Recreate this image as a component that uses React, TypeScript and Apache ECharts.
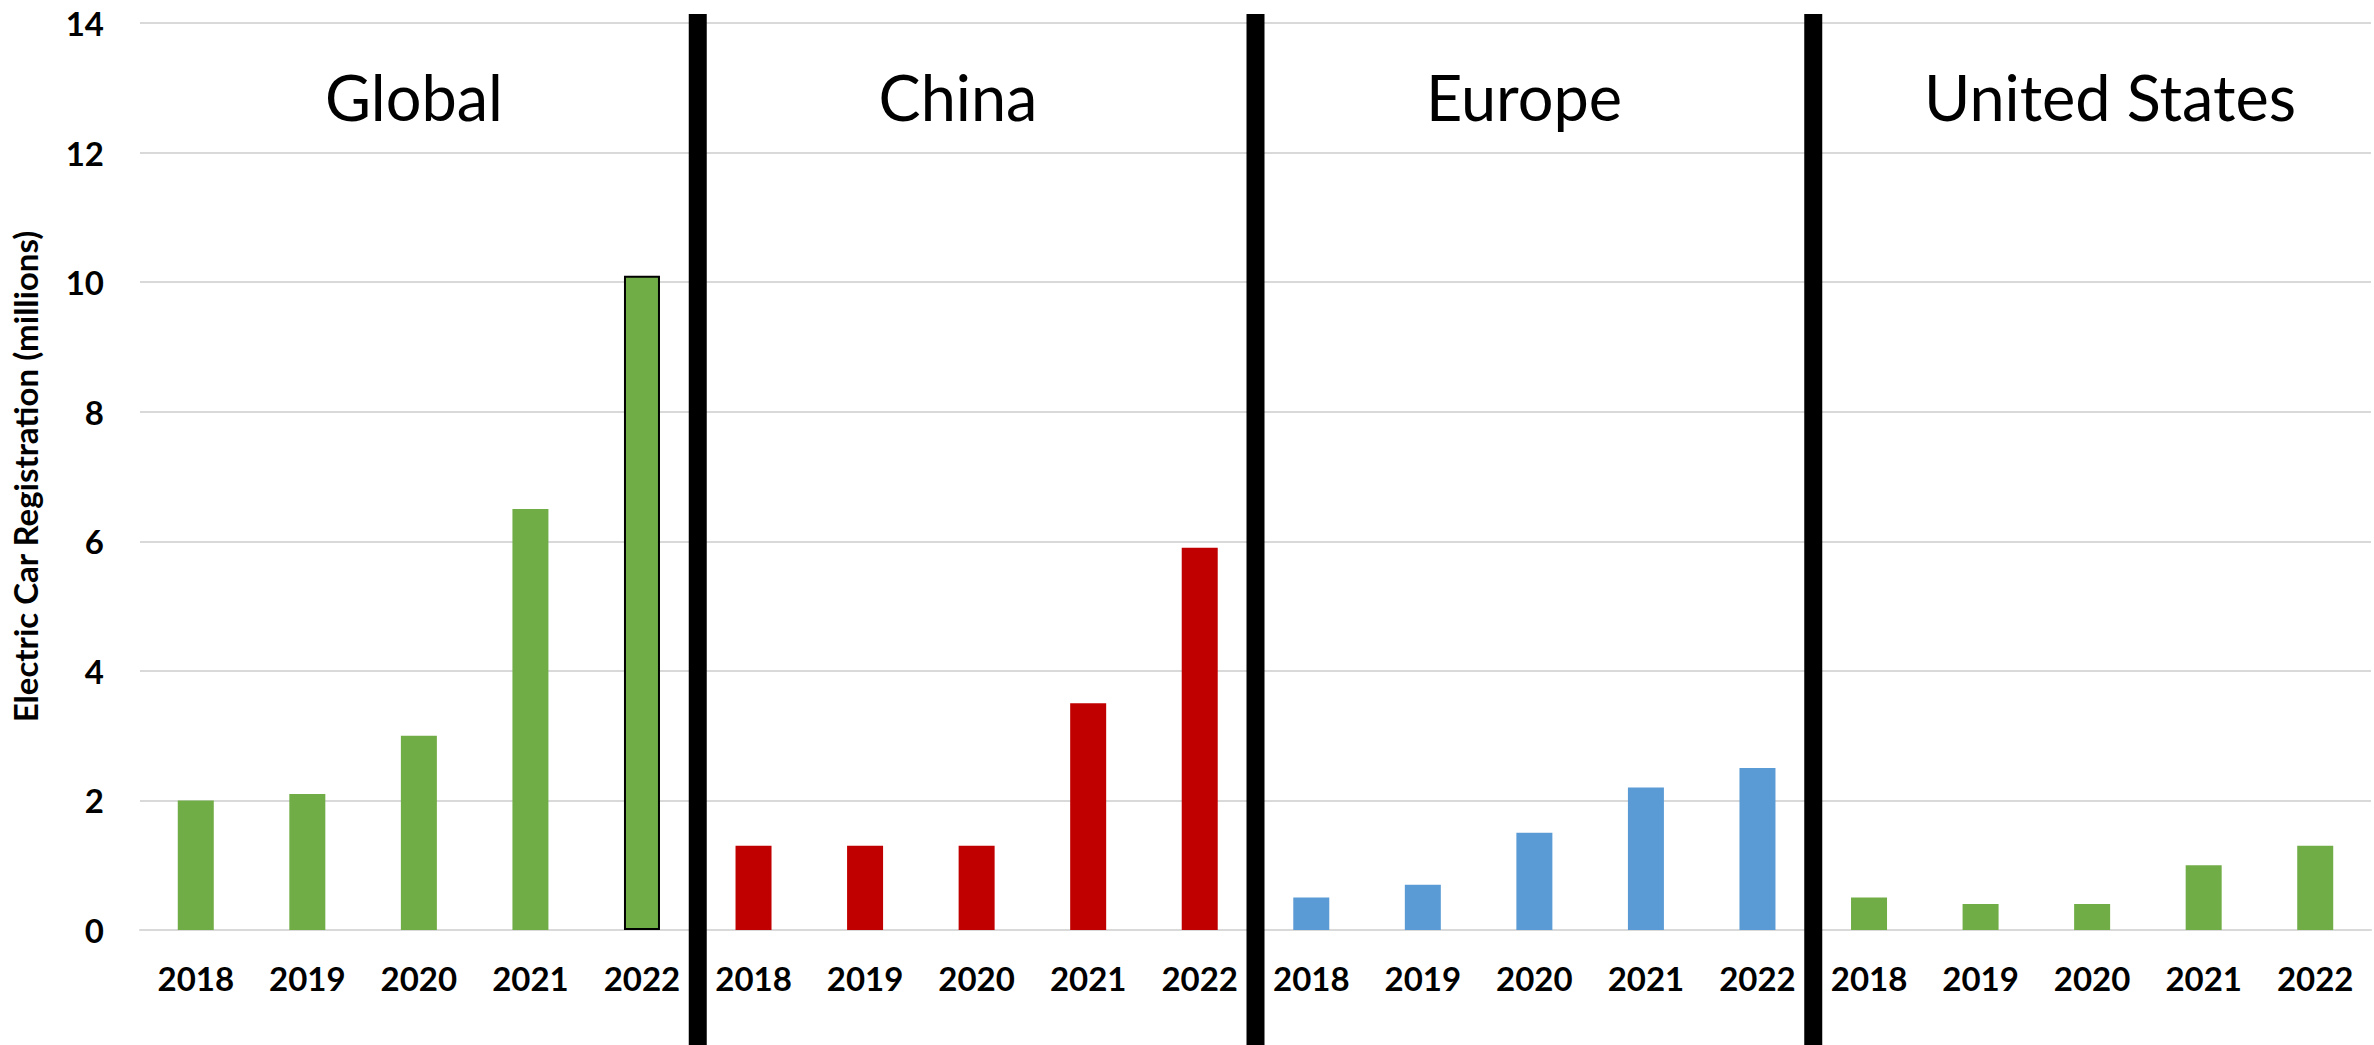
import React, { useEffect, useRef } from "react";
import * as echarts from "echarts";

const years = ["2018", "2019", "2020", "2021", "2022"];
const regions = ["Global", "China", "Europe", "United States"];
const globalValues = [2.0, 2.1, 3.0, 6.5, 10.1];
const chinaValues = [1.3, 1.3, 1.3, 3.5, 5.9];
const europeValues = [0.5, 0.7, 1.5, 2.2, 2.5];
const usValues = [0.5, 0.4, 0.4, 1.0, 1.3];
const regionColors = ["#70AD47", "#C00000", "#5B9BD5", "#70AD47"];
const titleX = [414, 958, 1524, 2110];
const yAxisName = "Electric Car Registration (millions)";

export default function App() {
  const ref = useRef<HTMLDivElement>(null);
  useEffect(() => {
    if (!ref.current) return;
    const chart = echarts.init(ref.current, null, { renderer: "svg" });
    const groups = [globalValues, chinaValues, europeValues, usValues];
    const categories: string[] = [];
    const data: any[] = [];
    groups.forEach((vals, gi) => {
      vals.forEach((v, i) => {
        categories.push(years[i]);
        const item: any = { value: v, itemStyle: { color: regionColors[gi] } };
        if (gi === 0 && i === vals.length - 1) {
          item.itemStyle.borderColor = "#000";
          item.itemStyle.borderWidth = 2;
        }
        data.push(item);
      });
    });
    const font = "Lato, 'Open Sans', sans-serif";
    chart.setOption({
      animation: false,
      backgroundColor: "#fff",
      grid: { left: 127, right: 3, top: 23, bottom: 115, containLabel: false },
      xAxis: {
        type: "category",
        data: categories,
        axisLine: { show: true, lineStyle: { color: "#D9D9D9", width: 2 } },
        axisTick: { show: false },
        axisLabel: {
          color: "#000",
          fontFamily: font,
          fontWeight: "bold",
          fontSize: 33,
          margin: 31,
          interval: 0,
        },
      },
      yAxis: {
        type: "value",
        min: 0,
        max: 14,
        interval: 2,
        name: yAxisName,
        nameLocation: "middle",
        nameRotate: 90,
        nameGap: 99,
        nameTextStyle: { color: "#000", fontFamily: font, fontWeight: "bold", fontSize: 33 },
        axisLine: { show: false },
        axisTick: { show: false },
        splitLine: { lineStyle: { color: "#D9D9D9", width: 2 } },
        axisLabel: { color: "#000", fontFamily: font, fontWeight: "bold", fontSize: 33, margin: 36 },
      },
      series: [
        {
          type: "bar",
          data,
          barWidth: 36,
        },
      ],
    });
    const n = years.length;
    const graphics: any[] = [];
    for (let g = 1; g < regions.length; g++) {
      const a = chart.convertToPixel({ xAxisIndex: 0 }, g * n - 1) as number;
      const b = chart.convertToPixel({ xAxisIndex: 0 }, g * n) as number;
      const x = (a + b) / 2;
      graphics.push({
        type: "rect",
        shape: { x: x - 9, y: 14, width: 18, height: 1045 - 14 },
        style: { fill: "#000" },
        z: 10,
      });
    }
    regions.forEach((r, i) => {
      graphics.push({
        type: "text",
        x: titleX[i],
        y: 96,
        style: {
          text: r,
          fill: "#000",
          font: `63px ${font}`,
          textAlign: "center",
          textVerticalAlign: "middle",
        },
        z: 10,
      });
    });
    chart.setOption({ graphic: graphics });
    return () => chart.dispose();
  }, []);
  return (
    <div
      ref={ref}
      style={{ position: "fixed", left: 0, top: 0, width: "2374px", height: "1045px" }}
    />
  );
}
